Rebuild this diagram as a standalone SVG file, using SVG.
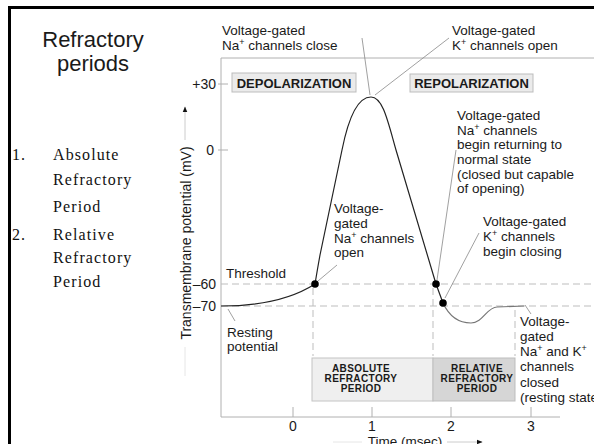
<svg xmlns="http://www.w3.org/2000/svg" width="594" height="444" viewBox="0 0 594 444">
<defs>
<style>
.t{font-family:"Liberation Sans",Arial,Helvetica,sans-serif;font-size:13.5px;fill:#1a1a1a}
.tm{font-family:"Liberation Serif","Times New Roman",serif;font-size:16px;fill:#111;letter-spacing:1.1px}
.ax{font-family:"Liberation Sans",Arial,sans-serif;font-size:14px;fill:#1a1a1a}
.hdr{font-family:"Liberation Sans",Arial,sans-serif;font-size:13px;font-weight:bold;fill:#1a1a1a}
.bx{font-family:"Liberation Sans",Arial,sans-serif;font-size:10px;font-weight:bold;fill:#1a1a1a;letter-spacing:0.4px}
.frame{stroke:#b0b0b0;stroke-width:1;fill:none}
.guide{stroke:#bdbdbd;stroke-width:1;stroke-dasharray:7,4;fill:none}
.lead{stroke:#888;stroke-width:0.8;fill:none}
.dot{fill:#000}
.sup{font-size:9px}
</style>
<marker id="ah" viewBox="0 0 10 10" refX="9" refY="5" markerWidth="6" markerHeight="6" orient="auto-start-reverse">
<path d="M0,1 L10,5 L0,9 z" fill="#111"/>
</marker>
</defs>
<rect x="0" y="0" width="594" height="444" fill="#fff"/>
<rect x="9.5" y="7.5" width="600" height="460" fill="none" stroke="#000" stroke-width="3"/>

<g id="title">
<text class="t" style="font-size:22px" x="93" y="47" text-anchor="middle">Refractory</text>
<text class="t" style="font-size:22px" x="93" y="71" text-anchor="middle">periods</text>
</g>

<g id="list">
<text class="tm" x="12" y="160">1.</text>
<text class="tm" x="53" y="160">Absolute</text>
<text class="tm" x="53" y="185">Refractory</text>
<text class="tm" x="53" y="212">Period</text>
<text class="tm" x="12" y="240">2.</text>
<text class="tm" x="53" y="240">Relative</text>
<text class="tm" x="53" y="263">Refractory</text>
<text class="tm" x="53" y="287">Period</text>
</g>

<g id="axes">
<path class="frame" d="M221,58 H594 M221,58 V417 H560"/>
<path class="frame" d="M218,84 H228 M218,150 H228 M293,407 V417 M372,407 V417 M451,407 V417 M531,407 V417"/>
<text class="ax" x="216" y="89" text-anchor="end">+30</text>
<text class="ax" x="214" y="155" text-anchor="end">0</text>
<text class="ax" x="216" y="289" text-anchor="end">–60</text>
<text class="ax" x="216" y="311" text-anchor="end">–70</text>
<text class="ax" x="293" y="431" text-anchor="middle">0</text>
<text class="ax" x="372" y="431" text-anchor="middle">1</text>
<text class="ax" x="451" y="431" text-anchor="middle">2</text>
<text class="ax" x="531" y="431" text-anchor="middle">3</text>
<text class="ax" x="191" y="243" text-anchor="middle" transform="rotate(-90 191 243)">Transmembrane potential (mV)</text>
<line x1="185" y1="140" x2="185" y2="107" stroke="#ccc" stroke-width="1" marker-end="url(#ah)"/>
<line x1="185" y1="347" x2="185" y2="376" stroke="#e6e6e6" stroke-width="1"/>
<text class="ax" x="405" y="446" text-anchor="middle" style="font-size:13.5px">Time (msec)</text>
<line x1="333" y1="442" x2="362" y2="442" stroke="#e6e6e6" stroke-width="1"/>
<line x1="447" y1="442" x2="482" y2="442" stroke="#ccc" stroke-width="1" marker-end="url(#ah)"/>
</g>

<g id="guides">
<path class="guide" d="M221,284 H594 M221,306 H594 M313,288 V356 M433,288 V356 M515,310 V356"/>
</g>

<g id="phase-depol">
<rect x="232" y="73" width="124" height="19" fill="#ebebeb" stroke="#bdbdbd"/>
<text class="hdr" x="294" y="87.5" text-anchor="middle">DEPOLARIZATION</text>
</g>
<g id="phase-repol">
<rect x="410" y="74" width="123" height="18" fill="#ebebeb" stroke="#bdbdbd"/>
<text class="hdr" x="471.5" y="88" text-anchor="middle">REPOLARIZATION</text>
</g>

<g id="absolute-box">
<rect x="312" y="358" width="121" height="43" fill="#efefef" stroke="#c4c4c4"/>
<text class="bx" x="361" y="372" text-anchor="middle">ABSOLUTE</text>
<text class="bx" x="361" y="382" text-anchor="middle">REFRACTORY</text>
<text class="bx" x="361" y="392" text-anchor="middle">PERIOD</text>
</g>
<g id="relative-box">
<rect x="433" y="358" width="82" height="43" fill="#d6d6d6" stroke="#bdbdbd"/>
<text class="bx" x="477" y="372" text-anchor="middle">RELATIVE</text>
<text class="bx" x="477" y="382" text-anchor="middle">REFRACTORY</text>
<text class="bx" x="477" y="392" text-anchor="middle">PERIOD</text>
</g>

<g id="curve">
<path d="M221,306 C255,306 290,300 315,284 C317,272 318,266 320,255 L342,150 C347,125 356,97 371,97 C383,97 388,122 396,150 L436,284 L443,303" fill="none" stroke="#222" stroke-width="1.2"/>
<path d="M443,303 C450,318 460,323 471,323 C483,323 487,307 497,307 L524,306" fill="none" stroke="#777" stroke-width="1.2"/>
<circle class="dot" cx="315" cy="284" r="3.8"/>
<circle class="dot" cx="436" cy="284" r="3.8"/>
<circle class="dot" cx="443" cy="303" r="3.8"/>
</g>

<g id="connectors">
<line class="lead" x1="362" y1="38" x2="370" y2="95"/>
<line class="lead" x1="375" y1="95" x2="449" y2="38"/>
<line class="lead" x1="337" y1="265" x2="318" y2="281"/>
<line class="lead" x1="456" y1="150" x2="437" y2="280"/>
<line class="lead" x1="479" y1="233" x2="445" y2="298"/>
<line class="lead" x1="228" y1="309" x2="235" y2="321"/>
<line class="lead" x1="525" y1="305" x2="531" y2="314"/>
</g>

<g id="label-na-close">
<text class="t" x="222" y="35">Voltage-gated</text>
<text class="t" x="222" y="50">Na<tspan class="sup" dy="-5">+</tspan><tspan dy="5"> channels close</tspan></text>
</g>
<g id="label-k-open">
<text class="t" x="452" y="35">Voltage-gated</text>
<text class="t" x="452" y="50">K<tspan class="sup" dy="-5">+</tspan><tspan dy="5"> channels open</tspan></text>
</g>
<g id="label-na-returning">
<text class="t" x="457" y="120">Voltage-gated</text>
<text class="t" x="457" y="134.5">Na<tspan class="sup" dy="-5">+</tspan><tspan dy="5"> channels</tspan></text>
<text class="t" x="457" y="149">begin returning to</text>
<text class="t" x="457" y="164">normal state</text>
<text class="t" x="457" y="178.5">(closed but capable</text>
<text class="t" x="457" y="193">of opening)</text>
</g>
<g id="label-k-closing">
<text class="t" x="483" y="226">Voltage-gated</text>
<text class="t" x="483" y="241">K<tspan class="sup" dy="-5">+</tspan><tspan dy="5"> channels</tspan></text>
<text class="t" x="483" y="256">begin closing</text>
</g>
<g id="label-na-open">
<text class="t" x="334" y="213">Voltage-</text>
<text class="t" x="334" y="228">gated</text>
<text class="t" x="334" y="242.5">Na<tspan class="sup" dy="-5">+</tspan><tspan dy="5"> channels</tspan></text>
<text class="t" x="334" y="257">open</text>
</g>
<g id="label-threshold">
<text class="t" x="226" y="278">Threshold</text>
</g>
<g id="label-resting">
<text class="t" x="227" y="337">Resting</text>
<text class="t" x="227" y="351">potential</text>
</g>
<g id="label-closed">
<text class="t" x="520" y="326">Voltage-</text>
<text class="t" x="520" y="341">gated</text>
<text class="t" x="520" y="356">Na<tspan class="sup" dy="-5">+</tspan><tspan dy="5"> and K</tspan><tspan class="sup" dy="-5">+</tspan></text>
<text class="t" x="520" y="371">channels</text>
<text class="t" x="520" y="387">closed</text>
<text class="t" x="520" y="402">(resting state</text>
</g>
</svg>
